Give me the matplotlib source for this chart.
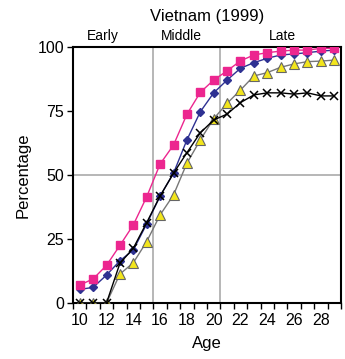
import matplotlib
matplotlib.use("Agg")
import matplotlib.pyplot as plt

plt.rcParams['font.family'] = ['Liberation Sans', 'DejaVu Sans']

ages = list(range(10, 30))
pink = [7.0, 9.4, 14.7, 22.5, 30.5, 41.5, 54.3, 61.7, 73.7, 82.3, 87.1, 90.7, 94.6, 96.9, 97.8, 98.4, 98.8, 98.8, 99.5, 99.5]
blue = [5.3, 6.1, 10.9, 16.5, 20.7, 30.9, 41.8, 50.7, 63.7, 74.7, 82.1, 87.1, 91.7, 93.9, 95.6, 96.9, 97.3, 97.8, 98.4, 98.8]
tri = [0, 0, 0, 11.3, 15.7, 24.0, 34.4, 42.2, 54.6, 63.7, 72.0, 78.0, 83.2, 88.7, 90.0, 92.1, 93.4, 94.3, 94.5, 94.9]
cross = [0, 0, 0, 15.5, 21.4, 31.4, 41.8, 50.7, 58.7, 66.5, 71.5, 73.8, 78.3, 81.3, 82.1, 82.1, 81.6, 82.1, 80.9, 80.9]

xticks = [10, 12, 14, 16, 18, 20, 22, 24, 26, 28]
yticks = [0, 25, 50, 75, 100]
phase_bounds = [15.5, 20.5]
phase_names = ["Early", "Middle", "Late"]
phase_centers = [11.7, 17.6, 25.1]

fig = plt.figure(figsize=(3.45, 3.59), dpi=100)
ax = fig.add_axes([0.2116, 0.156, 0.7768, 0.713])

ax.axhline(50, color='#aaaaaa', lw=1.2, zorder=1)
for b in phase_bounds:
    ax.axvline(b, color='#aaaaaa', lw=1.2, zorder=1)

ax.plot(ages, tri, color='#777777', lw=1, marker='^', ms=6.5, mfc='#f2e51c', mec='#666666', mew=0.8, zorder=3)
ax.plot(ages, blue, color='#2e3192', lw=1, marker='D', ms=4.5, mfc='#2e3192', mec='#2e3192', zorder=4)
ax.plot(ages, cross, color='black', lw=1, marker='x', ms=6, mew=1.1, zorder=5)
ax.plot(ages, pink, color='#ec268f', lw=1, marker='s', ms=6, mfc='#ec268f', mec='#ec268f', zorder=6)

ax.set_xlim(9.5, 29.5)
ax.set_ylim(0, 100)
ax.set_xticks(xticks)
ax.set_xticks([a + 0.5 for a in range(9, 30)], minor=True)
ax.tick_params(axis='x', which='major', length=0, pad=7, labelsize=11.5)
ax.tick_params(axis='x', which='minor', length=4, width=1, direction='out')
ax.set_yticks(yticks)
ax.tick_params(axis='y', length=4, width=1, direction='out', pad=2.5, labelsize=11.5)
for s in ax.spines.values():
    s.set_linewidth(1.5)
    s.set_color('black')

ax.set_xlabel('Age', fontsize=12, labelpad=6)
ax.set_ylabel('Percentage', fontsize=12, labelpad=5)
ax.set_title('Vietnam (1999)', fontsize=12, pad=19)
for name, c in zip(phase_names, phase_centers):
    ax.text(c, 101.5, name, ha='center', va='bottom', fontsize=10)

fig.savefig('out.png', dpi=100)
